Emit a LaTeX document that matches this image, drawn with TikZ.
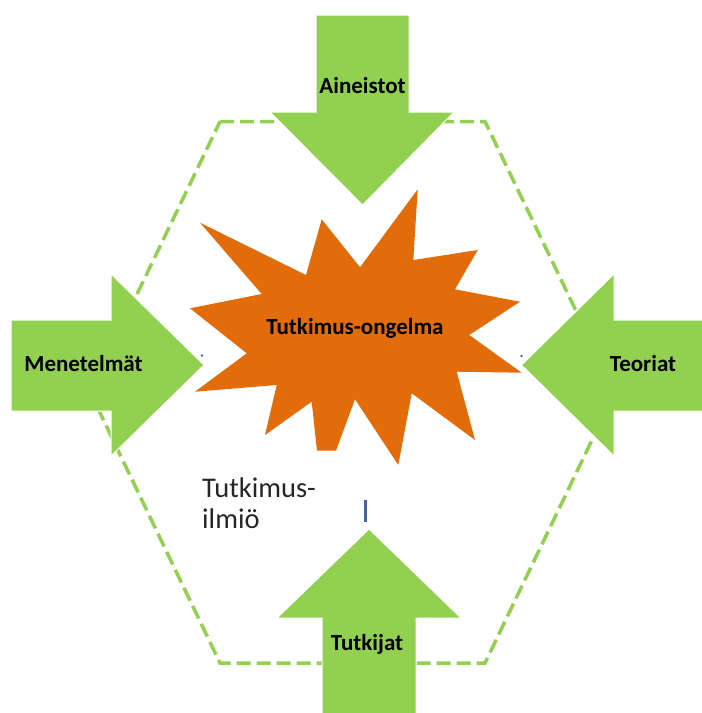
\documentclass[tikz,border=0pt]{standalone}
\usepackage{fontspec}
\setmainfont{Carlito}
\usetikzlibrary{positioning,calc}
\definecolor{LeafGreen}{RGB}{146,208,80}
\definecolor{BurntOrange}{RGB}{227,108,10}
\definecolor{CursorBlue}{RGB}{70,100,160}
\tikzset{
	blockarrow/.style={fill=LeafGreen,draw=white,line width=1pt},
	frame/.style={draw=LeafGreen,line width=3.5pt,dash pattern=on 14pt off 6pt},
	burst/.style={fill=BurntOrange},
	tag/.style={font=\fontsize{23}{27}\selectfont\bfseries,text=black,inner sep=0pt},
	plain/.style={font=\fontsize{28.5}{31}\selectfont,text=black!85,align=left,inner sep=0pt},
}

\begin{document}
\begin{tikzpicture}[x=1pt,y=-1pt]
	\useasboundingbox (0,0) rectangle (702,713);
	% dashed frame
	\coordinate (h1) at (220,121.5);
	\coordinate (h2) at (485,121.5);
	\coordinate (h3) at (615,392);
	\coordinate (h4) at (485,663);
	\coordinate (h5) at (220,663);
	\coordinate (h6) at (90,392);
	\draw[frame] (h1)--(h2)--(h3)--(h4)--(h5)--(h6)--cycle;
	% the four arrows
	\path[blockarrow] (316,15)--(409,15)--(409,112)--(454,112)--(362.5,205)--(270,112)--(316,112)--cycle;
	\path[blockarrow] (11,320)--(111,320)--(111,274)--(204,365)--(111,456)--(111,411)--(11,411)--cycle;
	\path[blockarrow] (703,320)--(614,320)--(614,274)--(521.5,365)--(614,456)--(614,411)--(703,411)--cycle;
	\path[blockarrow] (322,714)--(322,618)--(277,618)--(369,529)--(461,618)--(416,618)--(416,714)--cycle;
	% star
	\path[burst] (190,308.3)--(261.7,294)--(200,222.7)--(306,275)--(321.7,219.3)--(360,267.3)
		--(417.7,189.3)--(413.3,260)--(477.7,250)--(455,289.3)--(520,301.7)--(469.3,335)
		--(521.7,372.7)--(456.7,371.7)--(475,440)--(411.7,393.3)--(398.3,465)--(355,399.3)
		--(336,450.7)--(317,450.7)--(311.7,401.7)--(265,435)--(276.7,385)--(195,391.7)
		--(246.7,353.3)--cycle;
	% labels
	\node[tag] (problem) at (355,328) {Tutkimus-ongelma};
	\node[tag] (data) at (362.5,86) {Aineistot};
	\node[tag] (methods) at (83.5,364) {Menetelmät};
	\node[tag] (theories) at (643,364) {Teoriat};
	\node[tag] (researchers) at (367,644) {Tutkijat};
	\node[plain,anchor=west] (phenomenon) at (202,503) {Tutkimus-\\ilmiö};
	% stray marks
	\coordinate (c1) at (365.5,500);
	\coordinate (c2) at (365.5,521.5);
	\draw[CursorBlue,line width=2.5pt] (c1)--(c2);
	\fill[CursorBlue] (202,355.5) circle (1.3);
	\fill[CursorBlue] (521.5,356) circle (1.3);
\end{tikzpicture}
\end{document}
